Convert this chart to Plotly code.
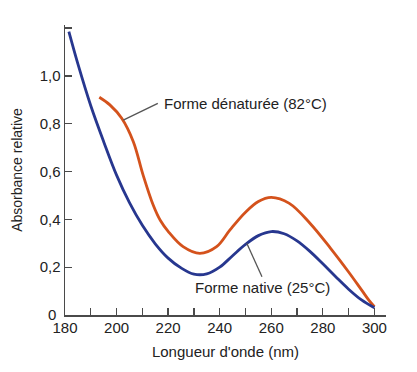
import plotly.graph_objects as go

# Wavelength (nm) and relative absorbance
wl_native = [181.5, 185, 190, 195, 200, 205, 210, 215, 220, 225, 230, 235, 240, 245, 250, 255, 260, 265, 270, 275, 280, 285, 290, 295, 300]
abs_native = [1.185, 1.05, 0.875, 0.725, 0.585, 0.47, 0.375, 0.298, 0.238, 0.197, 0.171, 0.172, 0.2, 0.248, 0.295, 0.332, 0.349, 0.34, 0.31, 0.266, 0.214, 0.16, 0.108, 0.063, 0.03]

wl_denat = [193.3, 197.4, 202, 206.5, 210.3, 214.2, 217, 220, 225.8, 232.3, 238.8, 244, 250, 255, 260, 267, 275, 283, 290, 295, 298, 300]
abs_denat = [0.911, 0.879, 0.823, 0.725, 0.585, 0.46, 0.395, 0.35, 0.286, 0.258, 0.286, 0.356, 0.43, 0.475, 0.492, 0.467, 0.384, 0.279, 0.18, 0.105, 0.06, 0.035]

x_ticks = [180, 190, 200, 210, 220, 230, 240, 250, 260, 270, 280, 290, 300]
x_labels = ["180", "", "200", "", "220", "", "240", "", "260", "", "280", "", "300"]
y_ticks = [0, 0.2, 0.4, 0.6, 0.8, 1.0, 1.2]
y_labels = ["0\u00a0", "0,2", "0,4", "0,6", "0,8", "1,0", ""]

label_denat = "Forme dénaturée (82°C)"
label_native = "Forme native (25°C)"

BLUE = "#27378f"
ORANGE = "#d4521c"
AXIS = "#4a4a4a"
TXT = "#222222"
FONT = "Liberation Sans, Arial, sans-serif"

fig = go.Figure()
fig.add_trace(go.Scatter(x=wl_denat, y=abs_denat, mode="lines",
                         line=dict(color=ORANGE, width=2.8, shape="spline", smoothing=1.0),
                         showlegend=False, hoverinfo="skip"))
fig.add_trace(go.Scatter(x=wl_native, y=abs_native, mode="lines",
                         line=dict(color=BLUE, width=2.8, shape="spline", smoothing=1.0),
                         showlegend=False, hoverinfo="skip"))

# leader lines
fig.add_shape(type="line", xref="x", yref="y", x0=202.6, y0=0.815, x1=216.0, y1=0.885,
              line=dict(color="#555555", width=1.3))
fig.add_shape(type="line", xref="x", yref="y", x0=250.5, y0=0.300, x1=256.4, y1=0.160,
              line=dict(color="#555555", width=1.3))

fig.add_annotation(x=217.5, y=0.883, xref="x", yref="y", text=label_denat, showarrow=False,
                   xanchor="left", yanchor="middle", font=dict(family=FONT, size=15, color=TXT))
fig.add_annotation(x=229.5, y=0.117, xref="x", yref="y", text=label_native, showarrow=False,
                   xanchor="left", yanchor="middle", font=dict(family=FONT, size=15, color=TXT))

fig.update_layout(
    width=417, height=372,
    margin=dict(l=65, r=31, t=25, b=57),
    paper_bgcolor="white", plot_bgcolor="white",
    font=dict(family=FONT, size=15, color=TXT),
    xaxis=dict(range=[180, 304.5], tickmode="array", tickvals=x_ticks, ticktext=x_labels,
               ticks="inside", ticklen=7, tickwidth=1.3, tickcolor=AXIS, automargin=False,
               ticklabelstandoff=-2,
               showline=True, linecolor=AXIS, linewidth=1.5, showgrid=False, zeroline=False,
               tickfont=dict(size=15, color=TXT),
               title=dict(text="Longueur d'onde (nm)", font=dict(size=15, color=TXT), standoff=12)),
    yaxis=dict(range=[0, 1.213], tickmode="array", tickvals=y_ticks, ticktext=y_labels,
               ticks="inside", ticklen=7, tickwidth=1.3, tickcolor=AXIS, automargin=False,
               showline=True, linecolor=AXIS, linewidth=1.5,
               showgrid=False, zeroline=False,
               tickfont=dict(size=15, color=TXT),
               title=dict(text="Absorbance relative", font=dict(size=14, color=TXT), standoff=13)),
)

fig.write_html("out.html", config={"displayModeBar": False, "staticPlot": True},
               post_script="document.body.style.margin='0';document.body.style.overflow='hidden';")
